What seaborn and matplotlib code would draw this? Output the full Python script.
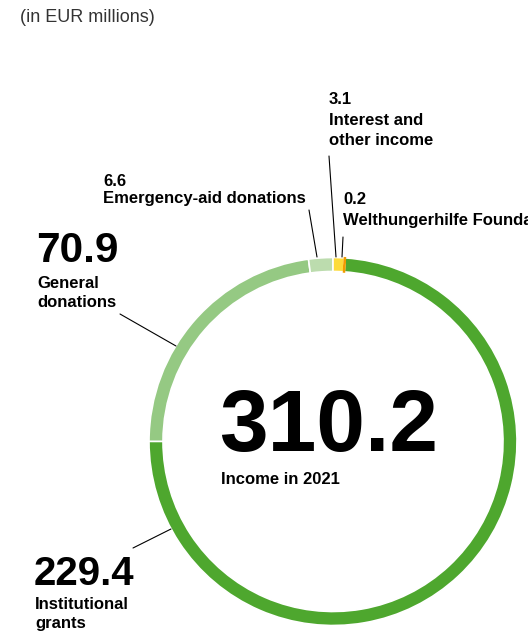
import matplotlib
matplotlib.use("Agg")
import matplotlib.pyplot as plt
import seaborn as sns

# ── Data ───────────────────────────────────────────────────────────────────────
categories = ['Institutional grants', 'General donations', 'Emergency-aid donations',
              'Interest and other income', 'Welthungerhilfe Foundation']
values = [229.4, 70.9, 6.6, 3.1, 0.2]
total = 310.2
colors = ['#4ea72e', '#95c983', '#bcdcae', '#fddb3a', '#f29a00']

sns.set_theme(style='white')
plt.rcParams['font.family'] = ['Liberation Sans', 'DejaVu Sans']
plt.rcParams['text.color'] = 'black'

W, H = 528, 637
fig = plt.figure(figsize=(W / 100, H / 100), dpi=100)
ax = fig.add_axes([0, 0, 1, 1])


def py(y):
    # pixel row -> data y
    return H - y


cx, cy, r = 333, 441.5, 184
start = 90 - 360 * (values[3] + values[4]) / sum(values)
wedges, _ = ax.pie(values, colors=colors, center=(cx, py(cy)), radius=r, startangle=start,
                   counterclock=False, frame=True,
                   wedgeprops=dict(width=14, edgecolor='white', linewidth=1.2))
# the foundation slice is thinner than a pixel, give it a visible edge
wedges[4].set_edgecolor(colors[4])
wedges[4].set_linewidth(1.3)
ax.set_xlim(0, W)
ax.set_ylim(0, H)
ax.set_aspect('equal')
ax.axis('off')

# ── Texts ──────────────────────────────────────────────────────────────────────
ax.text(20, py(18), '(in EUR millions)', fontsize=13, color='#333333', va='center')

ax.text(219, py(429), f'{total:.1f}', fontsize=63, fontweight='bold', va='center')
ax.text(221, py(480), 'Income in 2021', fontsize=12, fontweight='bold', va='center')

big = dict(fontweight='bold', va='center')
small = dict(fontsize=12, fontweight='bold', va='center', linespacing=1.4)

ax.text(36, py(251), f'{values[1]:.1f}', fontsize=30.5, **big)
ax.text(37, py(293), 'General\ndonations', **small)

ax.text(34, py(574), f'{values[0]:.1f}', fontsize=29, **big)
ax.text(35, py(614), 'Institutional\ngrants', **small)

ax.text(103, py(181), f'{values[2]:.1f}', **small)
ax.text(103, py(199), 'Emergency-aid donations', **small)

ax.text(329, py(100), f'{values[3]:.1f}', **small)
ax.text(329, py(130.5), 'Interest and\nother income', **small)

ax.text(343, py(200), f'{values[4]:.1f}', **small)
ax.text(343, py(220), 'Welthungerhilfe Foundation', **small)

# ── Leader lines ───────────────────────────────────────────────────────────────
lines = [((120, 314), (176, 346)),
         ((133, 548), (171, 529)),
         ((309, 210), (317, 257)),
         ((329, 156), (336, 257)),
         ((343, 237), (342, 257))]
for (x0, y0), (x1, y1) in lines:
    ax.plot([x0, x1], [py(y0), py(y1)], color='black', lw=0.8)

fig.savefig('out.png', dpi=100)
